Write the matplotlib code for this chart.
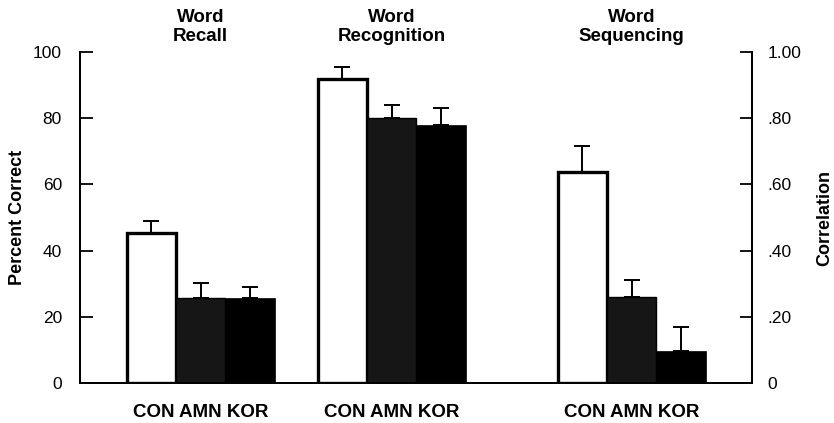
import numpy as np
import matplotlib
matplotlib.use('Agg')
import matplotlib.pyplot as plt

plt.rcParams['font.family'] = ['Liberation Sans', 'DejaVu Sans']

groups = ['Word\nRecall', 'Word\nRecognition', 'Word\nSequencing']
subjects = ['CON', 'AMN', 'KOR']

# percent correct (left axis)
recall = [45.4, 25.7, 25.7]
recall_top = [49.0, 30.3, 29.0]
recognition = [91.8, 80.0, 78.0]
recognition_top = [95.6, 84.0, 83.0]
# correlation (right axis)
sequencing = [0.636, 0.26, 0.096]
sequencing_top = [0.717, 0.31, 0.17]

group_centers = [2.45, 6.32, 11.19]
face = ['white', '#161616', 'black']
edge = ['black', 'black', 'black']
lw = [2.4, 1.0, 0.5]

fig = plt.figure(figsize=(8.34, 4.23), dpi=100)
ax = fig.add_axes([80 / 834, 1 - 383 / 423, 672 / 834, 331 / 423])
ax2 = ax.twinx()


def draw(a, center, vals, tops):
    for i, (v, t) in enumerate(zip(vals, tops)):
        x = center + i - 1
        a.errorbar(x, v, yerr=[[0], [t - v]], fmt='none', ecolor='black',
                   elinewidth=1.4, capsize=5.5, capthick=1.4, zorder=1)
        a.bar(x, v, width=1.0, color=face[i], edgecolor=edge[i],
              linewidth=lw[i], zorder=2)


draw(ax, group_centers[0], recall, recall_top)
draw(ax, group_centers[1], recognition, recognition_top)
draw(ax2, group_centers[2], sequencing, sequencing_top)

ax.set_xlim(0, 13.63)
ax.set_ylim(0, 100)
ax2.set_ylim(0, 1.0)

ax.set_yticks([0, 20, 40, 60, 80, 100])
ax2.set_yticks([0, 0.2, 0.4, 0.6, 0.8, 1.0])
ax2.set_yticklabels(['0', '.20', '.40', '.60', '.80', '1.00'])

ax.tick_params(axis='y', direction='in', length=9, width=1.3, pad=13,
               labelsize=12.5)
ax2.tick_params(axis='y', direction='in', length=9, width=1.3, pad=11,
                labelsize=12.5)

ax.set_xticks(group_centers)
ax.set_xticklabels([' '.join(subjects)] * 3, fontweight='bold', fontsize=13.5)
ax.tick_params(axis='x', length=0, pad=15)

for a in (ax, ax2):
    a.spines['top'].set_visible(False)
    for s in ('left', 'right', 'bottom'):
        a.spines[s].set_linewidth(1.3)

ax.set_ylabel('Percent Correct', fontweight='bold', fontsize=13, labelpad=5)
ax2.set_ylabel('Correlation', fontweight='bold', fontsize=13, labelpad=11)

for c, g in zip(group_centers, groups):
    ax.text(c, 1.02, g, transform=ax.get_xaxis_transform(), ha='center',
            va='bottom', fontweight='bold', fontsize=13.5, linespacing=1.15)

fig.savefig('out.png', dpi=100)
